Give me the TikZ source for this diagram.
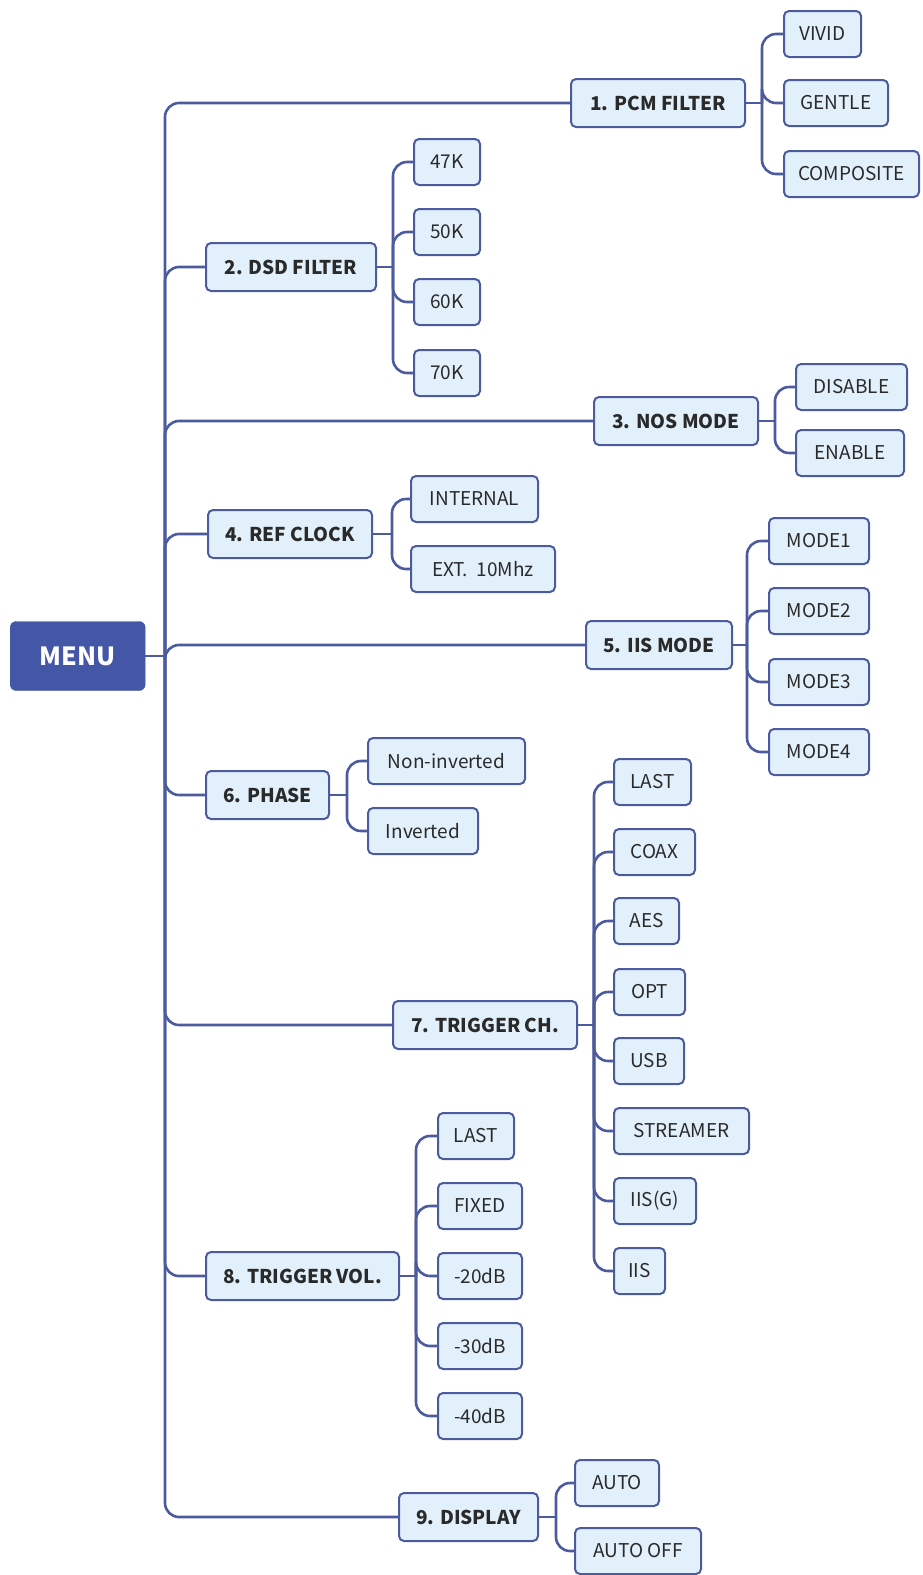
\documentclass[tikz,border=0pt]{standalone}
\usepackage{fontspec}
\setmainfont{Noto Sans CJK SC}
\definecolor{edge}{HTML}{4C5A9E}
\definecolor{boxfill}{HTML}{E2F0FB}
\definecolor{menublue}{HTML}{4456A6}
\definecolor{txt}{HTML}{2A2A2A}
\begin{document}
\begin{tikzpicture}[x=1pt,y=-1pt]
\useasboundingbox (0,0) rectangle (922,1575);
\tikzset{
 base/.style={draw=edge, line width=2pt, rounded corners=5pt, fill=boxfill, inner sep=0pt, anchor=west, text=txt},
 lone/.style={base, minimum height=48pt, font=\fontsize{19}{22}\selectfont\bfseries},
 ltwo/.style={base, minimum height=46pt, font=\fontsize{19}{22}\selectfont},
 conn/.style={draw=edge, line width=2.6pt, rounded corners=14pt},
 menubox/.style={fill=menublue, draw=menublue, rounded corners=6pt, inner sep=0pt, anchor=west, minimum width=135pt, minimum height=69pt, text=white, font=\fontsize{25}{28}\selectfont\bfseries},
}
% root
\node[menubox] (menu) at (10,656) {MENU};
\coordinate (t) at (165,656);
% level 1
\node[lone, minimum width=174pt] (pcm) at (570,103) {1. PCM FILTER};
\node[lone, minimum width=170pt] (dsd) at (205,267) {2. DSD FILTER};
\node[lone, minimum width=164pt] (nos) at (593,421) {3. NOS MODE};
\node[lone, minimum width=164pt] (ref) at (207,534) {4. REF CLOCK};
\node[lone, minimum width=146pt] (iis) at (585,645) {5. IIS MODE};
\node[lone, minimum width=123pt] (pha) at (205,795) {6. PHASE};
\node[lone, minimum width=184pt] (tch) at (392,1025) {7. TRIGGER CH.};
\node[lone, minimum width=193pt] (tvl) at (205,1276) {8. TRIGGER VOL.};
\node[lone, minimum width=139pt] (dsp) at (398,1517) {9. DISPLAY};
% trunk
\draw[conn] (menu.east) -- (t);
\foreach \n in {pcm,dsd,nos,ref,iis,pha,tch,tvl,dsp}{
  \draw[conn] (t) |- (\n.west);
}
% PCM children
\node[ltwo, minimum width=77pt] (vivid) at (783,34) {VIVID};
\node[ltwo, minimum width=104pt] (gentle) at (783,103) {GENTLE};
\node[ltwo, minimum width=135pt] (comp) at (783,174) {COMPOSITE};
\coordinate (jpcm) at (762,103);
\draw[conn] (pcm.east) -- (jpcm);
\foreach \n in {vivid,gentle,comp}{\draw[conn] (jpcm) |- (\n.west);}
% DSD children
\node[ltwo, minimum width=66pt] (k47) at (413,162) {47K};
\node[ltwo, minimum width=66pt] (k50) at (413,232) {50K};
\node[ltwo, minimum width=66pt] (k60) at (413,302) {60K};
\node[ltwo, minimum width=66pt] (k70) at (413,373) {70K};
\coordinate (jdsd) at (393,267);
\draw[conn] (dsd.east) -- (jdsd);
\foreach \n in {k47,k50,k60,k70}{\draw[conn] (jdsd) |- (\n.west);}
% NOS children
\node[ltwo, minimum width=111pt] (dis) at (795,387) {DISABLE};
\node[ltwo, minimum width=108pt] (ena) at (795,453) {ENABLE};
\coordinate (jnos) at (775,421);
\draw[conn] (nos.east) -- (jnos);
\foreach \n in {dis,ena}{\draw[conn] (jnos) |- (\n.west);}
% REF children
\node[ltwo, minimum width=127pt] (int) at (410,499) {INTERNAL};
\node[ltwo, minimum width=144pt] (ext) at (410,569) {EXT.\ \ 10Mhz};
\coordinate (jref) at (392,534);
\draw[conn] (ref.east) -- (jref);
\foreach \n in {int,ext}{\draw[conn] (jref) |- (\n.west);}
% IIS children
\node[ltwo, minimum width=100pt] (m1) at (768,541) {MODE1};
\node[ltwo, minimum width=100pt] (m2) at (768,611) {MODE2};
\node[ltwo, minimum width=100pt] (m3) at (768,682) {MODE3};
\node[ltwo, minimum width=100pt] (m4) at (768,752) {MODE4};
\coordinate (jiis) at (747,645);
\draw[conn] (iis.east) -- (jiis);
\foreach \n in {m1,m2,m3,m4}{\draw[conn] (jiis) |- (\n.west);}
% PHASE children
\node[ltwo, minimum width=157pt] (noninv) at (367,761) {Non-inverted};
\node[ltwo, minimum width=110pt] (inv) at (367,831) {Inverted};
\coordinate (jpha) at (347,795);
\draw[conn] (pha.east) -- (jpha);
\foreach \n in {noninv,inv}{\draw[conn] (jpha) |- (\n.west);}
% TRIGGER CH children
\node[ltwo, minimum width=77pt] (clast) at (613,782) {LAST};
\node[ltwo, minimum width=81pt] (coax) at (613,852) {COAX};
\node[ltwo, minimum width=65pt] (aes) at (613,921) {AES};
\node[ltwo, minimum width=71pt] (opt) at (613,992) {OPT};
\node[ltwo, minimum width=70pt] (usb) at (613,1061) {USB};
\node[ltwo, minimum width=135pt] (str) at (613,1131) {STREAMER};
\node[ltwo, minimum width=82pt] (iisg) at (613,1201) {IIS(G)};
\node[ltwo, minimum width=51pt] (iisc) at (613,1271) {IIS};
\coordinate (jtch) at (594,1025);
\draw[conn] (tch.east) -- (jtch);
\foreach \n in {clast,coax,aes,opt,usb,str,iisg,iisc}{\draw[conn] (jtch) |- (\n.west);}
% TRIGGER VOL children
\node[ltwo, minimum width=76pt] (vlast) at (437,1136) {LAST};
\node[ltwo, minimum width=84pt] (fixed) at (437,1206) {FIXED};
\node[ltwo, minimum width=84pt] (d20) at (437,1276) {-20dB};
\node[ltwo, minimum width=84pt] (d30) at (437,1346) {-30dB};
\node[ltwo, minimum width=84pt] (d40) at (437,1416) {-40dB};
\coordinate (jtvl) at (416,1276);
\draw[conn] (tvl.east) -- (jtvl);
\foreach \n in {vlast,fixed,d20,d30,d40}{\draw[conn] (jtvl) |- (\n.west);}
% DISPLAY children
\node[ltwo, minimum width=84pt] (auto) at (574,1483) {AUTO};
\node[ltwo, minimum width=126pt] (aoff) at (574,1551) {AUTO OFF};
\coordinate (jdsp) at (556,1517);
\draw[conn] (dsp.east) -- (jdsp);
\foreach \n in {auto,aoff}{\draw[conn] (jdsp) |- (\n.west);}
\end{tikzpicture}
\end{document}
